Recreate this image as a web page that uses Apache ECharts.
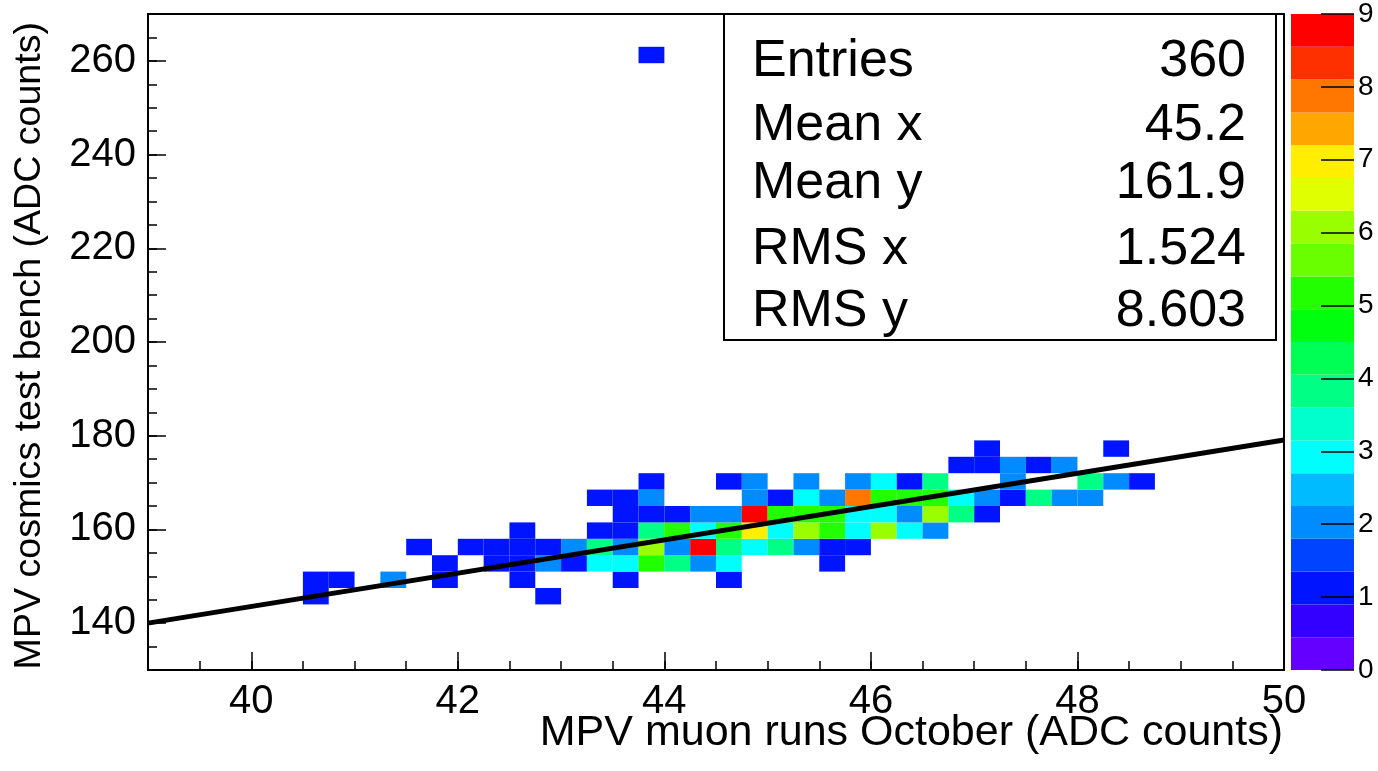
<!DOCTYPE html>
<html>
<head>
<meta charset="utf-8">
<script src="https://cdn.jsdelivr.net/npm/echarts@6/dist/echarts.min.js"></script>
<style>
html,body{margin:0;padding:0;background:#fff;}
#chart{width:1378px;height:771px;}
</style>
</head>
<body>
<div id="chart"></div>
<script>
// ---- data ----
const BIN_W = 0.25;   // x bin width (ADC counts)
const BIN_H = 3.5;    // y bin height (ADC counts)
// each cell: [x low edge, y low edge, entries]
const cells = [
  [40.5,144,1],[40.5,147.5,1],
  [40.75,147.5,1],
  [41.25,147.5,2],
  [41.5,154.5,1],
  [41.75,147.5,1],[41.75,151,1],
  [42.0,154.5,1],
  [42.25,151,1],[42.25,154.5,1],
  [42.5,147.5,1],[42.5,151,1],[42.5,154.5,1],[42.5,158,1],
  [42.75,144,1],[42.75,151,2],[42.75,154.5,1],
  [43.0,151,1],[43.0,154.5,2],
  [43.25,151,3],[43.25,154.5,4],[43.25,158,1],[43.25,165,1],
  [43.5,147.5,1],[43.5,151,3],[43.5,154.5,2],[43.5,158,1],[43.5,161.5,1],[43.5,165,1],
  [43.75,151,5],[43.75,154.5,6],[43.75,158,4],[43.75,161.5,1],[43.75,165,2],[43.75,168.5,1],[43.75,259.5,1],
  [44.0,151,4],[44.0,154.5,2],[44.0,158,5],[44.0,161.5,1],
  [44.25,151,2],[44.25,154.5,9],[44.25,158,3],[44.25,161.5,2],
  [44.5,147.5,1],[44.5,151,3],[44.5,154.5,4],[44.5,158,5],[44.5,161.5,2],[44.5,168.5,1],
  [44.75,154.5,3],[44.75,158,7],[44.75,161.5,9],[44.75,165,2],[44.75,168.5,2],
  [45.0,154.5,4],[45.0,158,3],[45.0,161.5,5],[45.0,165,1],
  [45.25,154.5,2],[45.25,158,6],[45.25,161.5,5],[45.25,165,3],[45.25,168.5,2],
  [45.5,151,1],[45.5,154.5,1],[45.5,158,5],[45.5,161.5,5],[45.5,165,2],
  [45.75,154.5,1],[45.75,158,3],[45.75,161.5,3],[45.75,165,8],[45.75,168.5,2],
  [46.0,158,6],[46.0,161.5,3],[46.0,165,5],[46.0,168.5,3],
  [46.25,158,3],[46.25,161.5,2],[46.25,165,5],[46.25,168.5,1],
  [46.5,158,2],[46.5,161.5,6],[46.5,165,5],[46.5,168.5,4],
  [46.75,161.5,4],[46.75,165,3],[46.75,172,1],
  [47.0,161.5,1],[47.0,165,2],[47.0,172,1],[47.0,175.5,1],
  [47.25,165,1],[47.25,168.5,2],[47.25,172,2],
  [47.5,165,4],[47.5,172,1],
  [47.75,165,2],[47.75,172,2],
  [48.0,165,2],[48.0,168.5,4],
  [48.25,168.5,2],[48.25,175.5,1],
  [48.5,168.5,1]
];
// linear fit drawn over the histogram: [x, y] end points
const fitLine = [[39, 140.0], [50, 179.1]];
const xMajorTicks = [40, 42, 44, 46, 48, 50];
const yMajorTicks = [140, 160, 180, 200, 220, 240, 260];
const Z_MAX = 9;
const palette = [
  '#6300ff','#3300ff','#0014ff','#0044ff','#008bff','#00bbff','#00fffc','#00ffcc','#00ff85','#00ff55',
  '#00ff0e','#22ff00','#69ff00','#99ff00','#e0ff00','#ffee00','#ffa700','#ff7700','#ff3000','#ff0000'
];
const statLabels = ['Entries', 'Mean x', 'Mean y', 'RMS x', 'RMS y'];
const statValues = ['360', '45.2', '161.9', '1.524', '8.603'];
const xTitle = 'MPV muon runs October (ADC counts)';
const yTitle = 'MPV cosmics test bench (ADC counts)';

// ---- chart ----
const FONT = '"Liberation Sans", Arial, Helvetica, sans-serif';
function colorFor(n) {
  let k = Math.floor(n / (Z_MAX / palette.length));
  if (k > palette.length - 1) k = palette.length - 1;
  if (k < 0) k = 0;
  return palette[k];
}
const bands = palette.map((c, i) => [i * Z_MAX / palette.length, (i + 1) * Z_MAX / palette.length, i]);

const chart = echarts.init(document.getElementById('chart'), null, {renderer: 'canvas'});
const statY = [62, 126, 184, 250, 312];
const graphics = [
  {type:'rect', z: 50, shape:{x:724, y:14, width:552, height:326},
   style:{fill:'#fff', stroke:'#000', lineWidth:2}},
  {type:'text', z: 60, x: 1283, y: 733,
   style:{text: xTitle, font: '43px ' + FONT, fill:'#000', textAlign:'right', textVerticalAlign:'middle'}},
  {type:'text', z: 60, x: 30, y: 22, rotation: Math.PI/2,
   style:{text: yTitle, font: '37.6px ' + FONT, fill:'#000', textAlign:'right', textVerticalAlign:'middle'}}
];
statLabels.forEach((s, i) => {
  graphics.push({type:'text', z: 60, x: 752, y: statY[i],
    style:{text: s, font: '52px ' + FONT, fill:'#000', textAlign:'left', textVerticalAlign:'middle'}});
  graphics.push({type:'text', z: 60, x: 1246, y: statY[i],
    style:{text: statValues[i], font: '52px ' + FONT, fill:'#000', textAlign:'right', textVerticalAlign:'middle'}});
});

const axisLineStyle = {color:'#000', width:2};
const option = {
  animation: false,
  backgroundColor: '#fff',
  textStyle: {fontFamily: FONT},
  grid: [
    {left:148, right:94, top:14, bottom:101, show:true, borderColor:'#000', borderWidth:2, backgroundColor:'transparent'},
    {left:1291, right:24, top:14, bottom:101, show:false}
  ],
  xAxis: [
    {type:'value', gridIndex:0, min:39, max:50, interval:0.5, position:'bottom', z:10,
     axisLine:{show:true, onZero:false, lineStyle:axisLineStyle},
     axisTick:{show:true, inside:true, length:9, lineStyle:{color:'#000', width:1.5}},
     axisLabel:{show:false}, splitLine:{show:false}},
    {type:'value', gridIndex:0, min:39, max:50, position:'bottom', offset:0, z:11,
     axisLine:{show:false, onZero:false},
     axisTick:{show:true, inside:true, length:18, customValues:xMajorTicks, lineStyle:{color:'#000', width:1.5}},
     axisLabel:{show:true, customValues:xMajorTicks, fontSize:40, color:'#000', margin:12, fontFamily:FONT},
     splitLine:{show:false}},
    {type:'value', gridIndex:1, min:0, max:1, show:false, axisLine:{onZero:false}}
  ],
  yAxis: [
    {type:'value', gridIndex:0, min:130, max:270, interval:5, position:'left', z:10,
     axisLine:{show:true, onZero:false, lineStyle:axisLineStyle},
     axisTick:{show:true, inside:true, length:9, lineStyle:{color:'#000', width:1.5}},
     axisLabel:{show:false}, splitLine:{show:false}},
    {type:'value', gridIndex:0, min:130, max:270, position:'left', offset:0, z:11,
     axisLine:{show:false, onZero:false},
     axisTick:{show:true, inside:true, length:18, customValues:yMajorTicks, lineStyle:{color:'#000', width:1.5}},
     axisLabel:{show:true, customValues:yMajorTicks, fontSize:40, color:'#000', margin:12, fontFamily:FONT},
     splitLine:{show:false}},
    {type:'value', gridIndex:1, min:0, max:Z_MAX, interval:1, position:'right', z:10,
     axisLine:{show:false, onZero:false},
     axisTick:{show:true, inside:true, length:33, lineStyle:{color:'#000', width:1.5}},
     axisLabel:{show:true, fontSize:28, color:'#000', margin:4, fontFamily:FONT},
     splitLine:{show:false}}
  ],
  series: [
    {type:'custom', name:'hist', xAxisIndex:0, yAxisIndex:0, data: cells, clip:true, z:2,
     encode:{x:0, y:1},
     renderItem: function(params, api) {
       const x = api.value(0), y = api.value(1), n = api.value(2);
       const p0 = api.coord([x, y + BIN_H]);
       const p1 = api.coord([x + BIN_W, y]);
       return {type:'rect', shape:{x:p0[0], y:p0[1], width:p1[0]-p0[0], height:p1[1]-p0[1]},
               style:{fill: colorFor(n), stroke: null}};
     }},
    {type:'line', name:'fit', xAxisIndex:0, yAxisIndex:0, data: fitLine, z:5,
     symbol:'none', lineStyle:{color:'#000', width:5}},
    {type:'custom', name:'palette', xAxisIndex:2, yAxisIndex:2, data: bands, z:2,
     encode:{y:[0,1]},
     renderItem: function(params, api) {
       const lo = api.value(0), hi = api.value(1), k = api.value(2);
       const p0 = api.coord([0, hi]);
       const p1 = api.coord([1, lo]);
       return {type:'rect', shape:{x:p0[0], y:p0[1], width:p1[0]-p0[0], height:p1[1]-p0[1]},
               style:{fill: palette[k], stroke: null}};
     }}
  ],
  graphic: graphics
};
chart.setOption(option);
</script>
</body>
</html>
